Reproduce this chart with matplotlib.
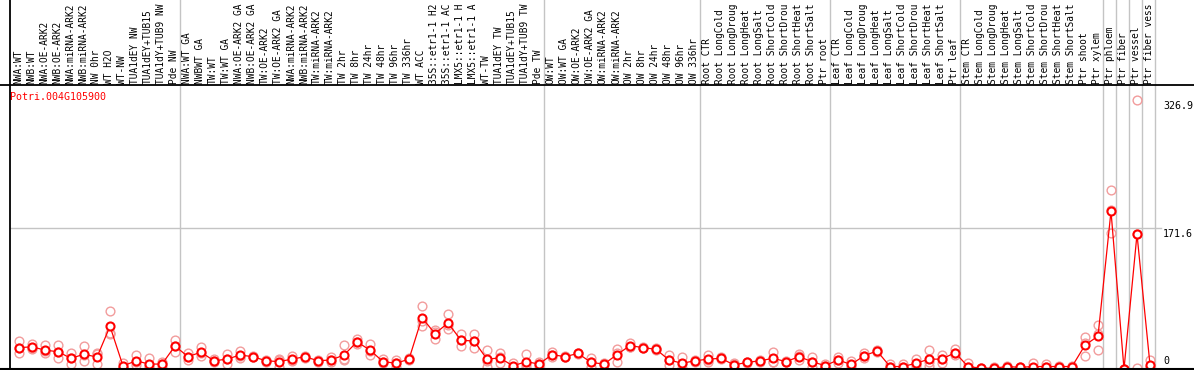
import matplotlib
matplotlib.use("Agg")
import matplotlib.pyplot as plt
import matplotlib.transforms as mtransforms
from matplotlib.lines import Line2D
import numpy as np

gene = "Potri.004G105900"

# category labels as they are shown (truncated to the label band height)
labels = [
    "NWA:WT", "NWB:WT", "NWA:OE-ARK2", "NWB:OE-ARK2", "NWA:miRNA-ARK2", "NWB:miRNA-ARK2",
    "NW 0hr", "WT H2O", "WT-NW", "TUA1dEY NW", "TUA1dEY+TUB15", "TUA1dY+TUB9 NW", "Pde NW",
    "NWA:WT GA", "NWBWT GA", "TW:WT", "TW:WT GA", "NWA:OE-ARK2 GA", "NWB:OE-ARK2 GA",
    "TW:OE-ARK2", "TW:OE-ARK2 GA", "NWA:miRNA-ARK2", "NWB:miRNA-ARK2", "TW:miRNA-ARK2",
    "TW:miRNA-ARK2",
    "TW 2hr", "TW 8hr", "TW 24hr", "TW 48hr", "TW 96hr", "TW 336hr", "WT ACC",
    "35S::etr1-1 H2", "35S::etr1-1 AC", "LMX5::etr1-1 H", "LMX5::etr1-1 A",
    "WT-TW", "TUA1dEY TW", "TUA1dEY+TUB15", "TUA1dY+TUB9 TW", "Pde TW",
    "OW:WT", "OW:WT GA", "OW:OE-ARK2", "OW:OE-ARK2 GA", "OW:miRNA-ARK2", "OW:miRNA-ARK2",
    "OW 2hr", "OW 8hr", "OW 24hr", "OW 48hr", "OW 96hr", "OW 336hr",
    "Root CTR", "Root LongCold", "Root LongDroug", "Root LongHeat", "Root LongSalt",
    "Root ShortCold", "Root ShortDrou", "Root ShortHeat", "Root ShortSalt", "Ptr root",
    "Leaf CTR", "Leaf LongCold", "Leaf LongDroug", "Leaf LongHeat", "Leaf LongSalt",
    "Leaf ShortCold", "Leaf ShortDrou", "Leaf ShortHeat", "Leaf ShortSalt", "Ptr leaf",
    "Stem CTR", "Stem LongCold", "Stem LongDroug", "Stem LongHeat", "Stem LongSalt",
    "Stem ShortCold", "Stem ShortDrou", "Stem ShortHeat", "Stem ShortSalt", "Ptr shoot",
    "Ptr xylem", "Ptr phloem", "Ptr fiber", "Ptr vessel", "Ptr fiber vess",
]
group_sizes = [13, 28, 12, 10, 10, 11, 1, 1, 1, 1]

means = [
    26, 27, 23, 21, 13, 18, 14.5, 52, 3.7, 10, 6, 6, 28,
    15, 20.5, 10, 12, 17, 15, 10, 9, 12, 15, 10, 11, 17, 33, 23, 9, 7, 12,
    62.5, 43, 56, 35, 34, 12, 13.5, 3.7, 9, 6,
    17.5, 15, 19, 8, 6, 17.5, 28.5, 26, 24, 11, 7, 10,
    12, 13, 5, 8, 10, 13, 9, 15, 9, 4,
    11, 5.5, 16, 22, 3, 3, 7, 12, 12, 20,
    3, 1, 1, 3, 2, 3, 3, 3, 3, 29, 40,
    192, 0, 164, 5,
]
rep1 = [
    34, 31, 29, 29, 20, 28, 19, 71, 7, 17, 13, 9, 35,
    20, 27, 12, 18, 22, 16, 11, 12, 16, 16, 11, 15, 29, 36, 31, 12, 11, 13,
    77, 48, 67, 43, 43, 23, 20, 7, 18, 8,
    21, 16, 20, 13, 7, 24, 32, 27, 25, 17, 14, 11,
    17, 14, 7, 9, 11, 21, 10, 18, 15, 6,
    15, 10, 19, 23, 6, 6, 12, 23, 17, 24,
    7, 1.5, 2, 4, 3, 7, 6, 4, 4, 39, 54,
    218, 0, 326.9, 11,
]
rep2 = [
    25, 26, 22, 21, 13, 17, 18, 44, 3, 9, 4, 6, 28,
    14, 19, 10, 12, 16, 15, 10, 11, 11, 15, 10, 11, 12, 33, 22, 9, 7, 12,
    59, 45, 53, 35, 34, 10, 14, 3, 6, 6,
    17, 15, 19, 8, 6, 19, 27, 26, 24, 11, 6, 10,
    11, 13, 6, 8, 10, 9, 9, 16, 9, 4,
    11, 5, 16, 22, 3, 3, 6, 9, 12, 20,
    2, 1, 1, 3, 2, 1, 2, 3, 3, 32, 43,
    193, 0, 164, 3,
]
rep3 = [
    20, 24, 19, 13, 6, 10, 6, 42, 1, 5, 1, 3, 21,
    11, 16, 8, 6, 13, 14, 9, 3, 10, 13, 9, 8, 11, 30, 17, 7, 3, 11,
    52, 36, 49, 28, 25, 3, 7, 1, 3, 4,
    15, 14, 18, 3, 5, 9, 27, 25, 23, 5, 1, 9,
    8, 12, 2, 7, 9, 9, 8, 11, 3, 2,
    7, 2, 13, 21, 1, 1, 4, 4, 7, 17,
    1, 0.5, 0, 2, 1, 1, 1, 2, 2, 16, 23,
    165, 0, 1, 1,
]
ytick_values = [0, 171.6, 326.9]
ytick_texts = ["0", "171.6", "326.9"]
grid_value = 171.6

W, H = 1194, 370
fig = plt.figure(figsize=(W / 100, H / 100), dpi=100)
fig.patch.set_facecolor("white")

MONO = "DejaVu Sans Mono"
FS = 7.2
FS_LAB = 6.85
GRAY = "#c4c4c4"

ax = fig.add_axes([10 / W, 1 / H, 1146 / W, 284 / H])
ax.set_xlim(-9 / 13, 1137 / 13)
ax.set_ylim(0, 284 * 171.6 / 141)
ax.axis("off")

x = np.arange(len(labels))
blend_xd = mtransforms.blended_transform_factory(ax.transData, fig.transFigure)
blend_fy = mtransforms.blended_transform_factory(fig.transFigure, ax.transData)

# horizontal grid line
ax.axhline(grid_value, xmin=0, xmax=(1161 - 10) / 1146, color=GRAY, lw=1.0,
           clip_on=False, zorder=1)

# group separators
bounds = np.cumsum(group_sizes) - 1 + 5 / 13
for b in bounds:
    ax.plot([b, b], [0, 1], transform=blend_xd, color=GRAY, lw=1.0,
            clip_on=False, zorder=1)

# frame lines
fig.add_artist(Line2D([10 / W, 10 / W], [0, 1], color="black", lw=1.3))
fig.add_artist(Line2D([0, 1], [1 - 85 / H, 1 - 85 / H], color="black", lw=1.3))
fig.add_artist(Line2D([0, 1], [1 - 368.8 / H, 1 - 368.8 / H], color="black", lw=1.5))

# replicates
for reps in (rep1, rep2, rep3):
    ax.plot(x, reps, "o", ms=6.3, mfc="none", mec="#f29c9c", mew=1.0,
            clip_on=False, zorder=2, ls="none")

# mean line and markers
ax.plot(x, means, "-", color="red", lw=0.9, clip_on=False, zorder=3)
ax.plot(x, means, "o", ms=5.8, mfc="white", mec="red", mew=1.5,
        clip_on=False, zorder=4, ls="none")

# category labels
for i, lab in enumerate(labels):
    ax.text(i - 1 / 13, 1 - 83.5 / H, lab, transform=blend_xd, rotation=90,
            ha="center", va="bottom", family=MONO, fontsize=FS_LAB, color="black")

# title
fig.text(10 / W, 1 - 100.5 / H, gene, color="red", family=MONO, fontsize=FS,
         ha="left", va="baseline")

# y tick labels on the right
for v, t in zip(ytick_values, ytick_texts):
    if v == 0:
        tr = mtransforms.offset_copy(blend_fy, fig=fig, x=0, y=3.5, units="dots")
        va = "bottom"
    else:
        tr = mtransforms.offset_copy(blend_fy, fig=fig, x=0, y=-1, units="dots")
        va = "top"
    fig.text(1163 / W, v, t, transform=tr, family=MONO, fontsize=FS,
             ha="left", va=va, color="black")

fig.savefig("out.png", dpi=100, facecolor="white")
